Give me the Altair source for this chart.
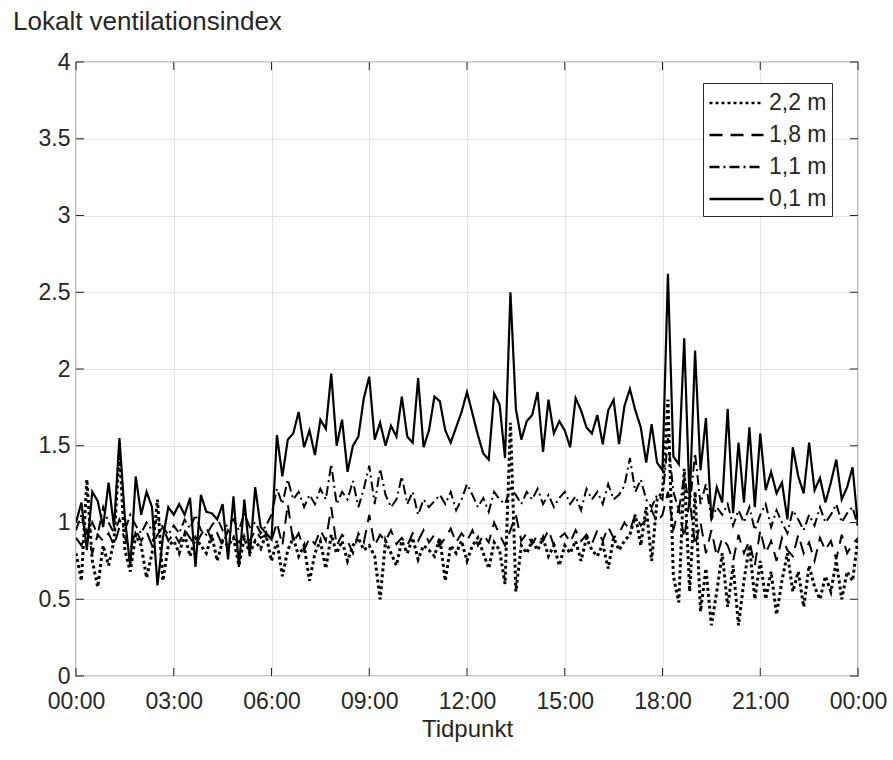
import altair as alt
import pandas as pd

# 10-minute samples, 00:00 .. 24:00 (145 per series)
v01 = [1.00, 1.13, 0.82, 1.20, 1.14, 0.97,
       1.26, 0.97, 1.55, 1.03, 0.71, 1.30,
       1.05, 1.20, 1.10, 0.59, 0.90, 1.10,
       1.05, 1.12, 1.05, 1.16, 0.71, 1.18,
       1.07, 1.06, 1.02, 1.12, 0.76, 1.17,
       0.71, 1.15, 0.78, 1.23, 0.97, 0.93,
       0.89, 1.57, 1.30, 1.54, 1.58, 1.72,
       1.49, 1.60, 1.44, 1.67, 1.61, 1.97,
       1.50, 1.67, 1.33, 1.50, 1.56, 1.81,
       1.95, 1.54, 1.65, 1.50, 1.63, 1.56,
       1.82, 1.56, 1.52, 1.94, 1.49, 1.60,
       1.82, 1.79, 1.60, 1.52, 1.62, 1.72,
       1.85, 1.71, 1.57, 1.45, 1.41, 1.84,
       1.77, 1.42, 2.50, 1.74, 1.54, 1.66,
       1.70, 1.85, 1.46, 1.80, 1.58, 1.66,
       1.60, 1.49, 1.81, 1.73, 1.62, 1.58,
       1.70, 1.51, 1.73, 1.80, 1.51, 1.76,
       1.87, 1.73, 1.62, 1.39, 1.64, 1.39,
       1.34, 2.62, 1.43, 1.38, 2.20, 1.13,
       2.12, 1.34, 1.68, 1.02, 1.23, 1.13,
       1.74, 1.06, 1.52, 1.13, 1.62, 1.10,
       1.58, 1.21, 1.33, 1.19, 1.26, 1.02,
       1.49, 1.30, 1.19, 1.52, 1.21, 1.29,
       1.13, 1.26, 1.41, 1.15, 1.23, 1.36, 0.98]

v11 = [0.95, 1.05, 0.88, 1.00, 0.92, 1.10,
       1.00, 0.93, 1.02, 0.95, 1.05, 0.98,
       0.93, 1.00, 0.95, 1.03, 0.97, 0.92,
       0.98, 0.93, 1.02, 0.96, 1.05, 0.95,
       0.92, 0.98, 1.03, 0.95, 0.99, 1.02,
       0.95, 1.06, 0.97, 1.00, 0.93, 0.98,
       1.05, 1.22, 1.12, 1.28, 1.15, 1.20,
       1.10, 1.18, 1.12, 1.22, 1.15, 1.38,
       1.12, 1.20, 1.15, 1.27, 1.10, 1.22,
       1.37, 1.12, 1.35, 1.18, 1.10, 1.15,
       1.30, 1.12, 1.20, 1.05, 1.15, 1.10,
       1.14, 1.18, 1.12, 1.20, 1.08, 1.15,
       1.25, 1.18, 1.10, 1.16, 1.07, 1.20,
       1.15, 1.12, 1.22, 1.18, 1.12, 1.20,
       1.15, 1.22, 1.12, 1.18, 1.10, 1.16,
       1.20, 1.12, 1.17, 1.08, 1.22, 1.15,
       1.20, 1.12, 1.25, 1.15, 1.18, 1.24,
       1.42, 1.20, 1.28, 1.15, 1.10, 1.18,
       1.15, 1.55, 1.20, 1.08, 1.30, 1.10,
       1.45, 1.12, 1.25, 1.02, 1.10, 1.05,
       1.12, 0.98, 1.08, 1.00, 1.10, 0.95,
       1.05, 1.12, 0.97, 1.08, 1.00, 0.93,
       1.08, 1.02, 0.95, 1.05, 0.98, 1.10,
       1.00, 1.05, 1.12, 1.00, 1.06, 1.10, 0.97]

v18 = [0.90, 0.85, 0.95, 0.80, 0.92, 0.88,
       0.93, 0.85, 0.97, 0.90, 0.82, 0.95,
       0.88, 0.94, 0.85, 0.92, 0.97, 0.88,
       0.93, 0.87, 0.95, 0.90, 0.85, 0.92,
       0.97, 0.88, 0.93, 0.85, 0.95, 0.90,
       0.87, 0.93, 0.88, 0.95, 0.90, 0.92,
       0.88, 1.00, 0.85, 1.12, 0.87, 0.93,
       0.82, 0.90, 0.86, 0.95, 0.88, 1.10,
       0.85, 0.92, 0.88, 0.80, 0.93, 0.87,
       1.05, 0.85, 0.92, 0.88, 0.95, 0.86,
       0.90, 0.85, 0.93, 0.88, 0.95, 0.87,
       0.92, 0.85, 0.90, 0.96, 0.87, 0.93,
       0.88, 0.95, 0.85, 0.92, 0.87, 1.00,
       0.92, 0.85, 0.95, 1.05, 0.88, 0.93,
       0.86, 0.92, 0.88, 0.95, 0.85, 0.90,
       0.93, 0.87, 0.95, 0.88, 0.92, 0.86,
       0.95, 0.88, 0.97, 0.90, 0.93, 1.00,
       0.95, 1.05, 0.98, 1.02, 1.08, 1.00,
       1.05, 1.20, 0.95, 1.10, 0.90, 1.15,
       0.85, 1.00, 0.80, 0.95, 0.78, 0.90,
       0.85, 0.75, 0.92, 0.80, 0.88, 0.72,
       0.95, 0.80, 0.88, 0.75, 0.90, 0.82,
       0.78, 0.92, 0.80, 0.87, 0.75, 0.90,
       0.82, 0.88, 0.76, 0.92, 0.80, 0.86, 0.90]

v22 = [0.80, 0.62, 1.28, 0.75, 0.58, 0.85,
       0.72, 0.88, 1.48, 0.82, 0.68, 0.92,
       0.85, 0.64, 0.80, 1.15, 0.62, 0.85,
       0.88, 0.80, 0.92, 0.78, 0.90, 0.85,
       0.80, 0.92, 0.75, 0.88, 0.85, 0.90,
       0.72, 0.90, 0.80, 0.88, 0.83, 0.92,
       0.75, 0.88, 0.65, 0.82, 0.90, 0.78,
       0.85, 0.62, 0.80, 0.88, 0.70, 0.92,
       0.80, 0.88, 0.75, 0.85, 0.90, 0.82,
       0.85, 0.78, 0.50, 0.88, 0.80, 0.72,
       0.88, 0.80, 0.90, 0.76, 0.85, 0.82,
       0.78, 0.90, 0.62, 0.85, 0.80, 0.88,
       0.75, 0.85, 0.90, 0.80, 0.70, 0.87,
       0.82, 0.60, 1.65, 0.55, 0.85, 0.80,
       0.88, 0.82, 0.90, 0.78, 0.85, 0.72,
       0.85, 0.80, 0.88, 0.75, 0.90, 0.82,
       0.78, 0.86, 0.70, 0.90, 0.82, 0.88,
       0.92, 1.05, 0.85, 1.10, 0.75, 1.15,
       1.20, 1.80, 0.65, 0.48, 1.35, 0.55,
       1.20, 0.42, 0.70, 0.33, 0.55, 0.80,
       0.45, 0.72, 0.33, 0.62, 0.85, 0.50,
       0.75, 0.50, 0.68, 0.40, 0.62, 0.80,
       0.55, 0.68, 0.45, 0.72, 0.58, 0.50,
       0.65, 0.55, 0.75, 0.50, 0.68, 0.62, 0.90]

series_names = ["2,2 m", "1,8 m", "1,1 m", "0,1 m"]
series_values = [v22, v18, v11, v01]
series_widths = [3, 2, 2, 2.2]
x_ticks = [0, 3, 6, 9, 12, 15, 18, 21, 24]
y_ticks = [0, 0.5, 1, 1.5, 2, 2.5, 3, 3.5, 4]

rows = []
for name, vals in zip(series_names, series_values):
    for i, v in enumerate(vals):
        rows.append({"t": i / 6.0, "v": v, "s": name})
df = pd.DataFrame(rows)

W, H = 782, 614
FONT = "Liberation Sans"
TXT = "#262626"

xs = alt.Scale(domain=[0, 24], nice=False, zero=False)
ys = alt.Scale(domain=[0, 4], nice=False)
dash_scale = alt.Scale(domain=series_names, range=[[3, 3], [13, 8], [10, 4, 2, 4], [1, 0]])
legend = alt.Legend(title=None, orient="none", legendX=627, legendY=21,
                    symbolType="M-1,0H3", symbolSize=729, symbolStrokeWidth=2.5,
                    symbolStrokeColor="black",
                    labelFontSize=23, labelFont=FONT, labelColor=TXT,
                    strokeColor="#262626", fillColor="white", padding=5,
                    rowPadding=5, labelOffset=31)

x_enc = alt.X("t:Q", scale=xs,
              axis=alt.Axis(values=x_ticks, title="Tidpunkt", grid=True, labelFlush=False,
                            labelFontSize=23,
                            labelExpr="(datum.value % 24 < 10 ? '0' : '') + (datum.value % 24) + ':00'"))
y_enc = alt.Y("v:Q", scale=ys,
              axis=alt.Axis(values=y_ticks, title=None, grid=True, format="~g", labelFlush=False,
                            labelFontSize=23))

line_layers = []
for name, w in zip(series_names, series_widths):
    line_layers.append(
        alt.Chart(df).transform_filter(alt.datum.s == name)
        .mark_line(strokeCap="butt", strokeJoin="miter", strokeWidth=w, color="black", clip=True)
        .encode(x=x_enc, y=y_enc,
                strokeDash=alt.StrokeDash("s:N", scale=dash_scale, legend=legend),
                order=alt.Order("t:Q"))
    )

ticks_df = pd.DataFrame({"t": x_ticks})
yticks_df = pd.DataFrame({"v": y_ticks})
tb = alt.Chart(ticks_df).mark_rule(color=TXT, strokeWidth=1).encode(
    x=alt.X("t:Q", scale=xs), y=alt.value(H), y2=alt.value(H - 8))
tt = alt.Chart(ticks_df).mark_rule(color=TXT, strokeWidth=1).encode(
    x=alt.X("t:Q", scale=xs), y=alt.value(0), y2=alt.value(8))
tl = alt.Chart(yticks_df).mark_rule(color=TXT, strokeWidth=1).encode(
    y=alt.Y("v:Q", scale=ys), x=alt.value(0), x2=alt.value(8))
tr = alt.Chart(yticks_df).mark_rule(color=TXT, strokeWidth=1).encode(
    y=alt.Y("v:Q", scale=ys), x=alt.value(W), x2=alt.value(W - 8))

title_df = pd.DataFrame({"label": ["Lokalt ventilationsindex"]})
ttl = alt.Chart(title_df).mark_text(align="left", baseline="alphabetic", font=FONT,
                                    fontSize=26, color=TXT).encode(
    text="label:N", x=alt.value(-63), y=alt.value(-32))

chart = alt.layer(*line_layers, tb, tt, tl, tr, ttl).properties(
    width=W, height=H,
    autosize=alt.AutoSizeParams(type="none"),
    padding={"left": 76, "top": 62, "right": 35, "bottom": 84},
).configure_view(stroke=TXT, strokeWidth=1.2).configure_axis(
    domain=False, ticks=False, gridColor="#e3e3e3", gridWidth=1,
    labelFont=FONT, labelColor=TXT,
    titleFont=FONT, titleFontSize=24, titleFontWeight="normal", titleColor=TXT,
).configure_axisX(labelPadding=14, titlePadding=4).configure_axisY(labelPadding=6)

chart.save("out.html", embed_options={"renderer": "svg", "actions": False})
